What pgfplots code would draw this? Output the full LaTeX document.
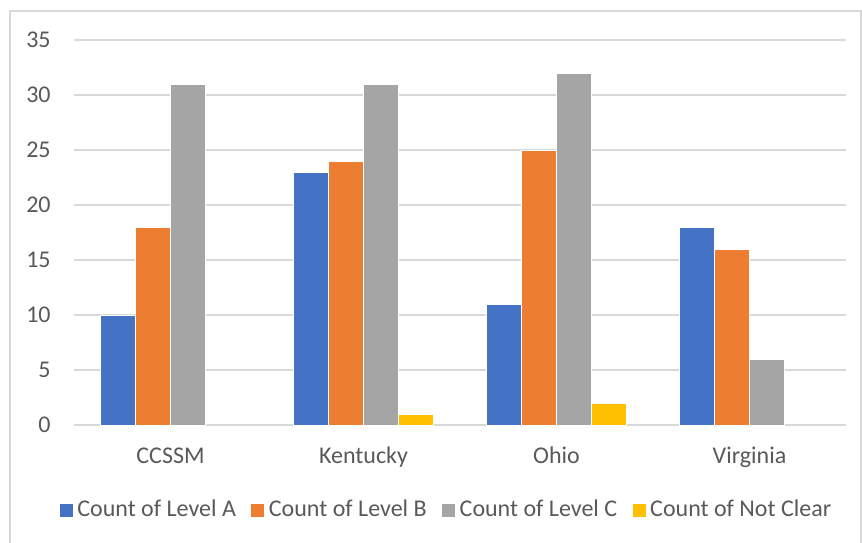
\documentclass[border=0pt]{standalone}
\usepackage{fontspec}
\setmainfont{Carlito}
\usepackage{pgfplots}
\pgfplotsset{compat=1.18}
\definecolor{cA}{HTML}{4472C4}
\definecolor{cB}{HTML}{ED7D31}
\definecolor{cC}{HTML}{A5A5A5}
\definecolor{cD}{HTML}{FFC000}
\definecolor{txt}{HTML}{595959}
\definecolor{grd}{HTML}{D9D9D9}
\begin{document}
\fontsize{12}{14}\selectfont
\begin{tikzpicture}
\useasboundingbox (0,0) rectangle (431pt,271pt);
\draw[grd, line width=0.6pt] (5pt,-5pt) -- (5pt,265.5pt) -- (430.5pt,265.5pt) -- (430.5pt,-5pt);
\begin{axis}[
  at={(37pt,58.5pt)}, anchor=south west,
  scale only axis, width=386pt, height=192.5pt,
  ybar=0pt, bar width=17.5pt,
  xmin=-0.5, xmax=3.5, ymin=0, ymax=35,
  xtick={0,1,2,3}, xticklabels={CCSSM,Kentucky,Ohio,Virginia},
  ytick={0,5,...,35},
  axis line style={draw=none},
  major tick length=0pt,
  ymajorgrids, major grid style={grd, line width=0.6pt},
  /pgf/number format/assume math mode=true,
  tick label style={txt, font=\fontsize{12}{14}\selectfont},
  yticklabel style={inner sep=0pt, anchor=east, xshift=-11.5pt},
  xticklabel style={inner sep=0pt, anchor=base, yshift=-19pt},
  legend columns=4,
  legend style={at={(186.5pt,-42.5pt)}, anchor=center, draw=none, fill=none,
    font=\fontsize{12}{14}\selectfont, text=txt, inner sep=0pt,
    /tikz/every even column/.append style={column sep=5.2pt}},
  legend cell align=left,
  legend image code/.code={\fill[#1] (0pt,-3.5pt) rectangle (7pt,3.5pt);},
  every axis plot/.append style={draw=white, line width=0.3pt},
]
\addplot[fill=cA] coordinates {(0,10) (1,23) (2,11) (3,18)};
\addplot[fill=cB] coordinates {(0,18) (1,24) (2,25) (3,16)};
\addplot[fill=cC] coordinates {(0,31) (1,31) (2,32) (3,6)};
\addplot[fill=cD] coordinates {(1,1) (2,2)};
\legend{Count of Level A,Count of Level B,Count of Level C,Count of Not Clear}
\end{axis}
\end{tikzpicture}
\end{document}
